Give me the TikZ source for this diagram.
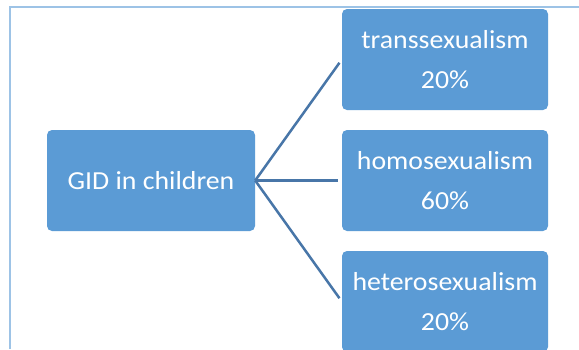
\documentclass[tikz,border=0pt]{standalone}
\usepackage{fontspec}
\setmainfont{Carlito}[FakeStretch=1.07]
\definecolor{boxblue}{RGB}{91,155,213}
\definecolor{linkblue}{RGB}{72,118,168}
\definecolor{frameblue}{RGB}{157,195,230}
\begin{document}
\begin{tikzpicture}[x=1pt,y=-1pt,
  box/.style={draw=none,fill=boxblue,rounded corners=5pt,text=white,inner sep=0pt,
    align=center,font=\fontsize{26}{40}\selectfont},
  link/.style={draw=linkblue,line width=2.5pt,shorten >=4pt}]
\useasboundingbox (0,0) rectangle (579,349);
\clip (0,0) rectangle (579,349);
\fill[white] (0,0) rectangle (579,349);
\draw[frameblue,line width=2pt] (10,349) -- (10,7) -- (579,7);
\node[box,minimum width=208pt,minimum height=101pt] (root) at (151,180.5) {GID in children};
\node[box,minimum width=206pt,minimum height=101pt] (t) at (445,59.5) {transsexualism\\20\%};
\node[box,minimum width=206pt,minimum height=101pt] (m) at (445,180.5) {homosexualism\\60\%};
\node[box,minimum width=206pt,minimum height=101pt] (b) at (445,301.5) {heterosexualism\\20\%};
\draw[link] (root.east) -- (t.west);
\draw[link] (root.east) -- (m.west);
\draw[link] (root.east) -- (b.west);
\end{tikzpicture}
\end{document}
